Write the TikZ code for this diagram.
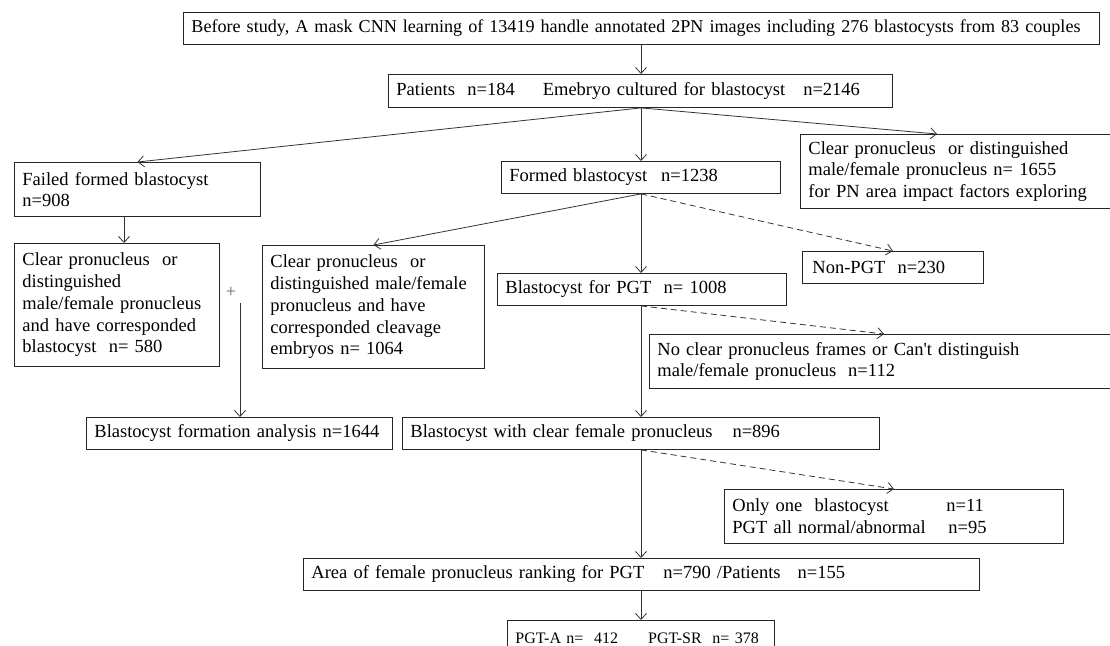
\documentclass[tikz,border=0pt]{standalone}
\usepackage{fontspec}
\newfontfamily\tnr{Liberation Serif}
\usetikzlibrary{arrows.meta,calc}
\tikzset{
  box/.style={draw=black!85, line width=0.9pt, inner xsep=8pt, inner ysep=0pt,
    anchor=north west, align=left, font=\tnr\fontsize{18.5}{21.7}\selectfont},
  conn/.style={draw=black!80, line width=0.8pt, -{Straight Barb[length=6pt,width=11pt]}},
  dconn/.style={conn, dash pattern=on 6pt off 4pt},
}
\begin{document}
\begin{tikzpicture}[x=1pt,y=-1pt]
\useasboundingbox (0,0) rectangle (1110,645);

\node[box, minimum width=916pt, minimum height=32pt, text width=904pt, inner xsep=6pt,
  font=\tnr\fontsize{18.1}{21.7}\selectfont] (top) at (183,12)
  {\hspace{2pt}Before study, A mask CNN learning of 13419 handle annotated 2PN images including 276 blastocysts from 83 couples};
\node[box, minimum width=504pt, minimum height=33pt, text width=488pt] (pat) at (388,74)
  {Patients\ \ n=184\hspace{28pt}Emebryo cultured for blastocyst\hspace{18pt}n=2146};
\node[box, minimum width=246pt, minimum height=54pt, text width=230pt] (failed) at (14,162)
  {Failed formed blastocyst\\n=908};
\node[box, minimum width=279pt, minimum height=32pt, text width=263pt] (formed) at (501,161)
  {Formed blastocyst\hspace{14pt}n=1238};
\node[box, minimum width=320pt, minimum height=74pt, text width=304pt] (cpr) at (800,134)
  {Clear pronucleus\ \ or distinguished\\male/female pronucleus n= 1655\\for PN area impact factors exploring};
\node[box, minimum width=205pt, minimum height=123pt, text width=189pt] (lc) at (14,243)
  {Clear pronucleus\ \ or\\distinguished\\male/female pronucleus\\and have corresponded\\blastocyst\ \ n= 580};
\node[box, minimum width=222pt, minimum height=123pt, text width=206pt] (mc) at (262,245)
  {Clear pronucleus\ \ or\\distinguished male/female\\pronucleus and have\\corresponded cleavage\\embryos n= 1064};
\node[box, minimum width=177pt, minimum height=32pt, text width=161pt, inner xsep=10pt] (nonpgt) at (802,251)
  {Non-PGT\ \ n=230};
\node[box, minimum width=289pt, minimum height=32pt, text width=273pt] (pgt) at (497,273)
  {Blastocyst for PGT\ \ n= 1008};
\node[box, minimum width=470pt, minimum height=54pt, text width=454pt] (noclear) at (649,334)
  {No clear pronucleus frames or Can\textquotesingle t distinguish\\male/female pronucleus\hspace{12pt}n=112};
\node[box, minimum width=306pt, minimum height=32pt, text width=290pt] (formation) at (86,417)
  {Blastocyst formation analysis n=1644};
\node[box, minimum width=477pt, minimum height=32pt, text width=461pt] (clearf) at (402,417)
  {Blastocyst with clear female pronucleus\hspace{20pt}n=896};
\node[box, minimum width=339pt, minimum height=54pt, text width=323pt] (onlyone) at (724,489)
  {\makebox[214pt][l]{Only one\ \ blastocyst}n=11\\\makebox[216pt][l]{PGT all normal/abnormal}n=95};
\node[box, minimum width=676pt, minimum height=32pt, text width=660pt] (area) at (303,558)
  {Area of female pronucleus ranking for PGT\hspace{19pt}n=790 /Patients\hspace{17pt}n=155};
\node[box, minimum width=267pt, minimum height=36pt, text width=251pt, font=\tnr\fontsize{16}{19}\selectfont] (pgta) at (507,620)
  {PGT-A n=\ \ 412\hspace{30pt}PGT-SR\ \ n= 378};
\node[font=\tnr\fontsize{18}{20}\selectfont, text=black!60, inner sep=0pt] (plus) at (231,292) {+};

\coordinate (spine) at (641,0);
\coordinate (cprin) at ($(cpr.north west)+(137,0)$);
\coordinate (fl) at ($(failed.south west)+(110,0)$);
\coordinate (pa) at (240,303);
\coordinate (ncin) at ($(noclear.north west)+(235,0)$);

\draw[conn] (spine |- top.south) -- (spine |- pat.north);
\draw[conn] (spine |- pat.south) -- (failed.north);
\draw[conn] (spine |- pat.south) -- (spine |- formed.north);
\draw[conn] (spine |- pat.south) -- (cprin);
\draw[conn] (fl) -- (fl |- lc.north);
\draw[conn] (spine |- formed.south) -- (mc.north);
\draw[conn] (spine |- formed.south) -- (spine |- pgt.north);
\draw[dconn] (spine |- formed.south) -- (nonpgt.north);
\draw[conn] (pa) -- (pa |- formation.north);
\draw[conn] (spine |- pgt.south) -- (spine |- clearf.north);
\draw[dconn] (spine |- pgt.south) -- (ncin);
\draw[conn] (spine |- clearf.south) -- (spine |- area.north);
\draw[dconn] (spine |- clearf.south) -- (onlyone.north);
\draw[conn] (spine |- area.south) -- (spine |- pgta.north);
\end{tikzpicture}
\end{document}
